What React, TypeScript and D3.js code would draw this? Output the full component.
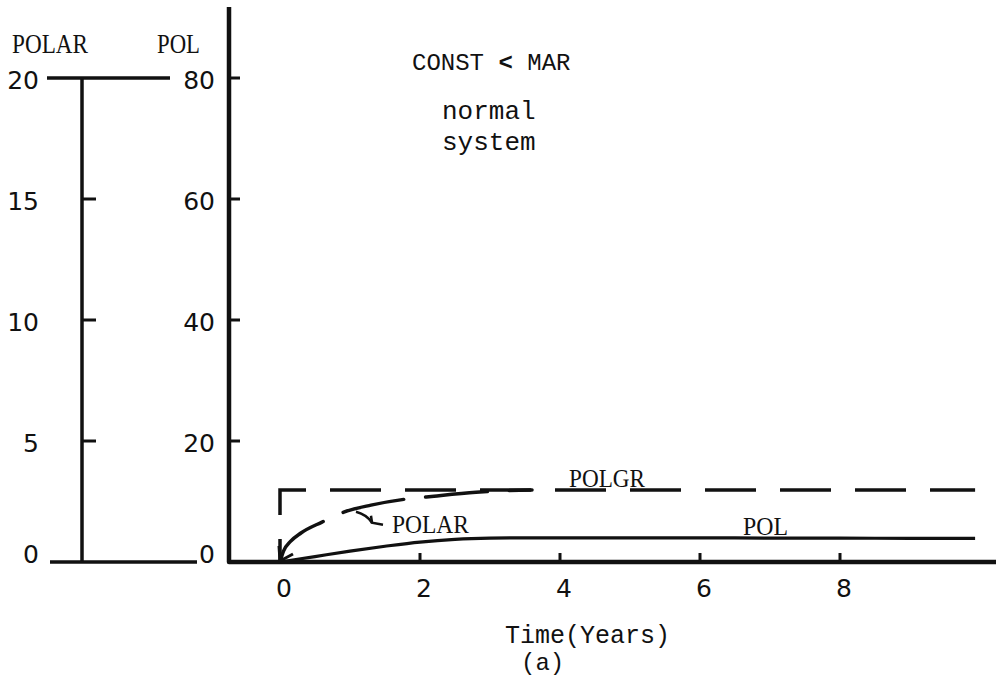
import React from "react";
import * as d3 from "d3";

// Time axis (years)
const TIME_TICKS = [0, 2, 4, 6, 8];
const TIME_MINOR = [2, 4, 6, 8];

// Left-hand POLAR scale and main POL scale
const POLAR_TICKS = [0, 5, 10, 15, 20];
const POL_TICKS = [0, 20, 40, 60, 80];

// POL (solid), POL units
const polTime = [0, 0.5, 1, 1.5, 2, 2.5, 3, 3.5, 4, 5, 6, 7, 8, 9, 9.93];
const polValues = [0, 0.9, 1.8, 2.6, 3.3, 3.75, 3.95, 4.0, 4.0, 4.0, 4.0, 3.95, 3.95, 3.9, 3.9];

// POLAR (long dashes), POLAR units
const polarTime = [0, 0.05, 0.15, 0.3, 0.6, 0.9, 1.3, 1.8, 2.2, 2.8, 3.6];
const polarValues = [0, 0.45, 0.85, 1.2, 1.65, 2.05, 2.35, 2.6, 2.72, 2.88, 2.98];

// POLGR (dashed step), POL units
const polgrTime = [0, 0, 9.93];
const polgrValues = [0, 11.9, 11.9];

const W = 996;
const H = 688;

const x = d3.scaleLinear().domain([0, 10]).range([280, 980]);
const yPol = d3.scaleLinear().domain([0, 80]).range([562, 78]);
const yPolar = d3.scaleLinear().domain([0, 20]).range([562, 78]);

const SERIF = "'Liberation Serif', 'Times New Roman', serif";
const MONO = "'Liberation Mono', 'Courier New', monospace";
const SANS = "'DejaVu Sans', sans-serif";

function SerifLabel(props: { x: number; y: number; width: number; size: number; children: string }) {
  return (
    <text
      x={props.x}
      y={props.y}
      fontFamily={SERIF}
      fontSize={props.size}
      textLength={props.width}
      lengthAdjust="spacingAndGlyphs"
      fill="#111"
    >
      {props.children}
    </text>
  );
}

export default function App() {
  const polLine = d3
    .line<number>()
    .x((_, i) => x(polTime[i]))
    .y((v) => yPol(v))
    .curve(d3.curveMonotoneX)(polValues) as string;

  const polarLine = d3
    .line<number>()
    .x((_, i) => x(polarTime[i]))
    .y((v) => yPolar(v))
    .curve(d3.curveMonotoneX)(polarValues) as string;

  const polgrLine = d3
    .line<number>()
    .x((_, i) => x(polgrTime[i]))
    .y((v) => yPol(v))(polgrValues) as string;

  const polarAxisX = 82;
  const polAxisX = 229;
  const baseY = yPol(0);
  const ox = x(0);

  // POLAR annotation anchor (label start) and arrow tip on the curve
  const polarLabelX = x(1.6);
  const polarLabelY = yPolar(1.2);
  const polarTipX = x(1.1);
  const polarTipY = yPolar(2.2);

  return (
    <svg
      width={W}
      height={H}
      viewBox={`0 0 ${W} ${H}`}
      style={{ position: "absolute", left: 0, top: 0, background: "#fff" }}
    >
      <rect width={W} height={H} fill="#fff" />

      {/* POLAR scale */}
      <SerifLabel x={12} y={53} width={76} size={27}>POLAR</SerifLabel>
      <line x1={polarAxisX} x2={polarAxisX} y1={yPolar(20)} y2={yPolar(0)} stroke="#111" strokeWidth={3.5} />
      <line x1={47} x2={170} y1={yPolar(20)} y2={yPolar(20)} stroke="#111" strokeWidth={3.5} />
      <line x1={50} x2={197} y1={yPolar(0)} y2={yPolar(0)} stroke="#111" strokeWidth={3.5} />
      {POLAR_TICKS.filter((t) => t > 0 && t < 20).map((t) => (
        <line key={"pt" + t} x1={polarAxisX} x2={polarAxisX + 14} y1={yPolar(t)} y2={yPolar(t)} stroke="#111" strokeWidth={3} />
      ))}
      {POLAR_TICKS.map((t) => (
        <text
          key={"pl" + t}
          x={39}
          y={t === 0 ? yPolar(t) + 1 : yPolar(t) + 11}
          textAnchor="end"
          fontFamily={SANS}
          fontSize={25}
          fill="#111"
        >
          {t}
        </text>
      ))}

      {/* POL scale */}
      <SerifLabel x={157} y={53} width={43} size={27}>POL</SerifLabel>
      {POL_TICKS.map((t) => (
        <text
          key={"ql" + t}
          x={215}
          y={t === 0 ? yPol(t) + 1 : yPol(t) + 11}
          textAnchor="end"
          fontFamily={SANS}
          fontSize={25}
          fill="#111"
        >
          {t}
        </text>
      ))}
      {POL_TICKS.filter((t) => t > 0).map((t) => (
        <line key={"qt" + t} x1={polAxisX} x2={polAxisX + 11} y1={yPol(t)} y2={yPol(t)} stroke="#111" strokeWidth={3} />
      ))}

      {/* Main axes */}
      <path
        d={`M${polAxisX},7 L${polAxisX},${baseY} L${W},${baseY}`}
        fill="none"
        stroke="#111"
        strokeWidth={4.5}
        strokeLinejoin="round"
      />
      {TIME_MINOR.map((t) => (
        <line key={"xt" + t} x1={x(t)} x2={x(t)} y1={baseY} y2={baseY - 9} stroke="#111" strokeWidth={3} />
      ))}
      {TIME_TICKS.map((t) => (
        <text key={"xl" + t} x={x(t) + 4} y={597} textAnchor="middle" fontFamily={SANS} fontSize={25} fill="#111">
          {t}
        </text>
      ))}

      {/* Curves */}
      <path d={polgrLine} fill="none" stroke="#111" strokeWidth={3.5} strokeDasharray="51 24" strokeDashoffset={28} />
      <path d={polarLine} fill="none" stroke="#111" strokeWidth={3.5} strokeDasharray="62 22" strokeLinecap="round" />
      <path d={polLine} fill="none" stroke="#111" strokeWidth={3.2} />

      {/* Arrowhead at origin on POLAR */}
      <path
        d={`M${ox - 1},${baseY - 16} L${ox},${baseY - 1} L${ox + 13},${baseY - 8}`}
        fill="none"
        stroke="#111"
        strokeWidth={3}
        strokeLinejoin="round"
      />

      {/* Curve labels */}
      <SerifLabel x={569} y={487} width={76} size={26}>POLGR</SerifLabel>
      <SerifLabel x={743} y={535} width={45} size={26}>POL</SerifLabel>
      <SerifLabel x={polarLabelX} y={polarLabelY} width={77} size={26}>POLAR</SerifLabel>
      <path
        d={`M${polarTipX - 1},${polarTipY + 3} Q${polarTipX + 10},${polarTipY + 6} ${polarTipX + 15},${polarTipY + 14}`}
        fill="none"
        stroke="#111"
        strokeWidth={2.5}
      />
      <path
        d={`M${polarTipX + 14},${polarTipY + 7} L${polarTipX + 15},${polarTipY + 14} L${polarTipX + 26},${polarTipY + 16}`}
        fill="none"
        stroke="#111"
        strokeWidth={2.5}
      />

      {/* Annotations */}
      <text x={412} y={70} fontFamily={MONO} fontSize={24} fill="#111">
        CONST <tspan fontWeight="bold">&lt;</tspan> MAR
      </text>
      <text x={442} y={119} fontFamily={MONO} fontSize={26} fill="#111">normal</text>
      <text x={442} y={150} fontFamily={MONO} fontSize={26} fill="#111">system</text>

      <text x={505} y={643} fontFamily={MONO} fontSize={25} fill="#111">Time(Years)</text>
      <text x={521} y={670} fontFamily={MONO} fontSize={24} fill="#111">(a)</text>
    </svg>
  );
}
